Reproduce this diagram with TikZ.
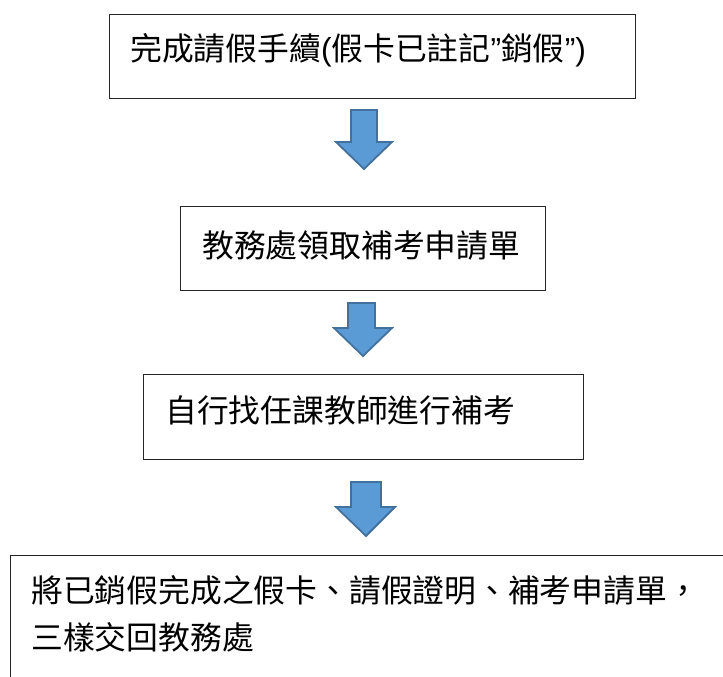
\documentclass[tikz,border=0pt]{standalone}
\usepackage{fontspec}
\newfontfamily\cjk{Noto Sans CJK TC}
\newfontfamily\lat{Liberation Sans}
\definecolor{arrowfill}{HTML}{5B9BD5}
\definecolor{arrowline}{HTML}{41719C}
\tikzset{
  box/.style={draw=black!85, line width=1.3pt, rectangle, inner sep=0pt, anchor=north west},
  lbl/.style={inner sep=0pt, anchor=base west, font=\cjk\fontsize{31.8pt}{47pt}\selectfont},
  blockarrow/.style={fill=arrowfill, draw=arrowline, line width=1.8pt, line join=miter}
}
\begin{document}
\begin{tikzpicture}[x=1pt,y=-1pt]
\useasboundingbox (0,0) rectangle (723,677);
\fill[white] (0,0) rectangle (723,677);
\clip (0,0) rectangle (723,677);
% boxes
\node[box, minimum width=526pt, minimum height=84pt] (b1) at (109,14) {};
\node[box, minimum width=365pt, minimum height=84pt] (b2) at (180,206) {};
\node[box, minimum width=440pt, minimum height=85pt] (b3) at (143,374) {};
\node[box, minimum width=740pt, minimum height=160pt] (b4) at (10,555) {};
% texts
\node[lbl] (t1) at (130,61) {完成請假手續{\lat(}假卡已註記{\lat ”}銷假{\lat ”)}};
\node[lbl] (t2) at (202,257) {教務處領取補考申請單};
\node[lbl] (t3) at (165,422) {自行找任課教師進行補考};
\node[lbl] (t4a) at (31,602) {將已銷假完成之假卡、請假證明、補考申請單，};
\node[lbl] (t4b) at (31,649) {三樣交回教務處};
% block arrows
\draw[blockarrow] (351,110) -- (377,110) -- (377,142) -- (392,142) -- (364,169) -- (336,142) -- (351,142) -- cycle;
\draw[blockarrow] (348,303) -- (375,303) -- (375,328) -- (392,328) -- (363,356) -- (334,328) -- (348,328) -- cycle;
\draw[blockarrow] (351,482) -- (381,482) -- (381,507) -- (395,507) -- (366,536) -- (336,507) -- (351,507) -- cycle;
\end{tikzpicture}
\end{document}
